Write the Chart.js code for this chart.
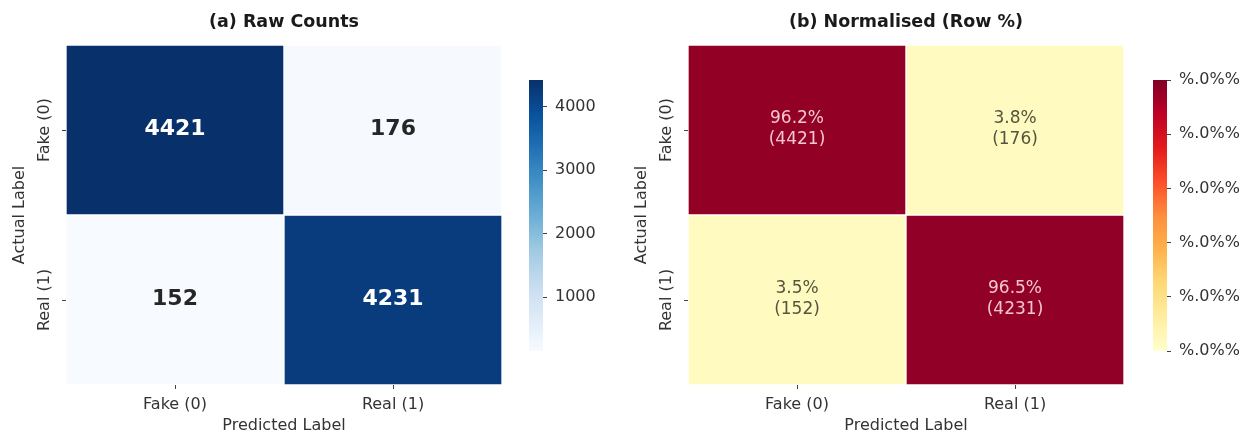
<!DOCTYPE html>
<html><head><meta charset="utf-8">
<script src="https://cdn.jsdelivr.net/npm/chart.js@4.4.1/dist/chart.umd.min.js"></script>
<style>
html,body{margin:0;padding:0;background:#fff;}
#wrap{position:relative;width:1255px;height:434px;overflow:hidden;background:#fff;}
.box{position:absolute;top:0;height:434px;}
</style></head><body>
<div id="wrap">
<div class="box" style="left:0;width:510px"><canvas id="hmA"></canvas></div>
<div class="box" style="left:529px;width:90px"><canvas id="cbA"></canvas></div>
<div class="box" style="left:622px;width:510px"><canvas id="hmB"></canvas></div>
<div class="box" style="left:1153px;width:100px"><canvas id="cbB"></canvas></div>
</div>
<script>
// ---- data ----
const predictedLabels = ['Fake (0)', 'Real (1)'];
const actualLabels = ['Fake (0)', 'Real (1)'];
const rawCounts = [[4421, 176], [152, 4231]];
const rowPercent = [[96.2, 3.8], [3.5, 96.5]];
const countTicks = [1000, 2000, 3000, 4000];
const pctTicks = [0, 0.2, 0.4, 0.6, 0.8, 1.0];
const pctTickLabel = '%.0%%';
const titleA = '(a) Raw Counts';
const titleB = '(b) Normalised (Row %)';
const xTitle = 'Predicted Label';
const yTitle = 'Actual Label';

// ---- colormaps ----
const BLUES = ['#f7fbff','#deebf7','#c6dbef','#9ecae1','#6baed6','#4292c6','#2171b5','#08519c','#08306b'];
const YLORRD = ['#ffffcc','#ffeda0','#fed976','#feb24c','#fd8d3c','#fc4e2a','#e31a1c','#bd0026','#800026'];
function hex(h){return [parseInt(h.slice(1,3),16),parseInt(h.slice(3,5),16),parseInt(h.slice(5,7),16)];}
function cmap(stops, t){
  t = Math.max(0, Math.min(1, t));
  const n = stops.length - 1, p = t * n, i = Math.min(n - 1, Math.floor(p)), f = p - i;
  const a = hex(stops[i]), b = hex(stops[i+1]);
  return 'rgb(' + a.map((v,k)=>Math.round(v + (b[k]-v)*f)).join(',') + ')';
}
function lum(stops, t){
  const m = cmap(stops,t).match(/\d+/g).map(Number).map(v=>{v/=255;return v<=0.03928?v/12.92:Math.pow((v+0.055)/1.055,2.4);});
  return 0.2126*m[0]+0.7152*m[1]+0.0722*m[2];
}

Chart.defaults.font.family = "'DejaVu Sans', 'Liberation Sans', sans-serif";
Chart.defaults.color = '#333';

const allCounts = rawCounts.flat();
const cMin = Math.min(...allCounts), cMax = Math.max(...allCounts);

function cellPlugin(textFn, fontFn, colorFn, lineH){
  return {
    id: 'cellText',
    afterDatasetsDraw(chart){
      const ctx = chart.ctx;
      chart.data.datasets.forEach((ds, r) => {
        chart.getDatasetMeta(r).data.forEach((el, c) => {
          const cx = el.x, cy = (el.y + el.base) / 2;
          const lines = textFn(r, c);
          ctx.save();
          ctx.font = fontFn(r, c);
          ctx.fillStyle = colorFn(r, c);
          ctx.textAlign = 'center';
          ctx.textBaseline = 'middle';
          lines.forEach((t, i) => ctx.fillText(t, cx, cy - 1 + (i - (lines.length - 1) / 2) * lineH));
          ctx.restore();
        });
      });
    }
  };
}

const yLabelPlugin = {
  id: 'yRotLabels',
  afterDraw(chart){
    const s = chart.scales.y, ctx = chart.ctx;
    ctx.save();
    ctx.font = "16px 'DejaVu Sans'";
    ctx.fillStyle = '#333';
    ctx.textAlign = 'center';
    ctx.textBaseline = 'middle';
    s.ticks.forEach(t => {
      const idx = actualLabels.length - 1 - Math.floor(t.value);
      const y = s.getPixelForValue(t.value);
      ctx.save();
      ctx.translate(s.right - 21, y);
      ctx.rotate(-Math.PI / 2);
      ctx.fillText(actualLabels[idx], 0, 0);
      ctx.restore();
    });
    ctx.restore();
  }
};

function heatmap(id, title, colorFn, plugin){
  const n = actualLabels.length;
  const datasets = actualLabels.map((lab, r) => ({
    label: lab,
    data: predictedLabels.map(() => [n - 1 - r, n - r]),
    backgroundColor: predictedLabels.map((_, c) => colorFn(r, c)),
    borderColor: '#ffffff',
    borderWidth: 1,
    borderSkipped: false,
    barPercentage: 1,
    categoryPercentage: 1,
    grouped: false
  }));
  return new Chart(document.getElementById(id), {
    type: 'bar',
    data: { labels: predictedLabels, datasets },
    options: {
      responsive: true, maintainAspectRatio: false, animation: false,
      layout: { padding: { left: 0, right: 8, top: 0, bottom: 0 } },
      plugins: {
        legend: { display: false }, tooltip: { enabled: false },
        title: { display: true, text: title, fullSize: false, color: '#1a1a1a',
          font: { size: 17.5, weight: 'bold', lineHeight: 1.2 }, padding: { top: 11.5, bottom: 12.5 } }
      },
      scales: {
        x: {
          type: 'category', offset: true,
          grid: { display: true, drawOnChartArea: false, drawTicks: true, tickLength: 4, tickColor: '#444', offset: false },
          border: { display: false },
          ticks: { color: '#333', font: { size: 16 }, padding: 6, maxRotation: 0 },
          title: { display: true, text: xTitle, color: '#333', font: { size: 16, lineHeight: 1 }, padding: { top: 0, bottom: 0 } },
          afterFit: s => { s.height = 49; }
        },
        y: {
          type: 'linear', min: 0, max: n,
          afterBuildTicks: s => { s.ticks = actualLabels.map((_, i) => ({ value: i + 0.5 })); },
          grid: { display: true, drawOnChartArea: false, drawTicks: true, tickLength: 4, tickColor: '#444' },
          border: { display: false },
          ticks: { display: false },
          title: { display: true, text: yTitle, color: '#333', font: { size: 16, lineHeight: 1 }, padding: { top: 12, bottom: 0 } },
          afterFit: s => { s.width = 66; }
        }
      }
    },
    plugins: [plugin, yLabelPlugin]
  });
}

function colorbar(id, stops, vmin, vmax, ticks, fmt, width){
  return new Chart(document.getElementById(id), {
    type: 'bar',
    data: { labels: [''], datasets: [{
      data: [[vmin, vmax]],
      backgroundColor: ctx => {
        const ca = ctx.chart.chartArea;
        if (!ca) return stops[0];
        const g = ctx.chart.ctx.createLinearGradient(0, ca.bottom, 0, ca.top);
        stops.forEach((c, i) => g.addColorStop(i / (stops.length - 1), c));
        return g;
      },
      borderWidth: 0, barPercentage: 1, categoryPercentage: 1
    }]},
    options: {
      responsive: true, maintainAspectRatio: false, animation: false,
      layout: { padding: { top: 80, bottom: 83, left: 0, right: 0 } },
      plugins: { legend: { display: false }, tooltip: { enabled: false } },
      scales: {
        x: { display: false },
        y: {
          position: 'right', min: vmin, max: vmax,
          afterBuildTicks: s => { s.ticks = ticks.map(v => ({ value: v })); },
          ticks: { callback: fmt, color: '#333', font: { size: 16 }, padding: 8 },
          grid: { display: true, drawOnChartArea: false, drawTicks: true, tickLength: 4, tickColor: '#444' },
          border: { display: false },
          afterFit: s => { s.width = width - 14; }
        }
      }
    }
  });
}

// Panel A
heatmap('hmA', titleA,
  (r, c) => cmap(BLUES, (rawCounts[r][c] - cMin) / (cMax - cMin)),
  cellPlugin(
    (r, c) => [String(rawCounts[r][c])],
    () => "bold 22px 'DejaVu Sans'",
    (r, c) => lum(BLUES, (rawCounts[r][c] - cMin) / (cMax - cMin)) < 0.408 ? '#ffffff' : '#262626',
    22));
colorbar('cbA', BLUES, cMin, cMax, countTicks, v => String(v), 90);

// Panel B
heatmap('hmB', titleB,
  (r, c) => cmap(YLORRD, rowPercent[r][c] / 100),
  cellPlugin(
    (r, c) => [rowPercent[r][c].toFixed(1) + '%', '(' + rawCounts[r][c] + ')'],
    () => "17px 'DejaVu Sans'",
    (r, c) => lum(YLORRD, rowPercent[r][c] / 100) < 0.408 ? '#f3c6cd' : '#55553f',
    21));
colorbar('cbB', YLORRD, 0, 1, pctTicks, () => pctTickLabel, 100);
</script>
</body></html>
